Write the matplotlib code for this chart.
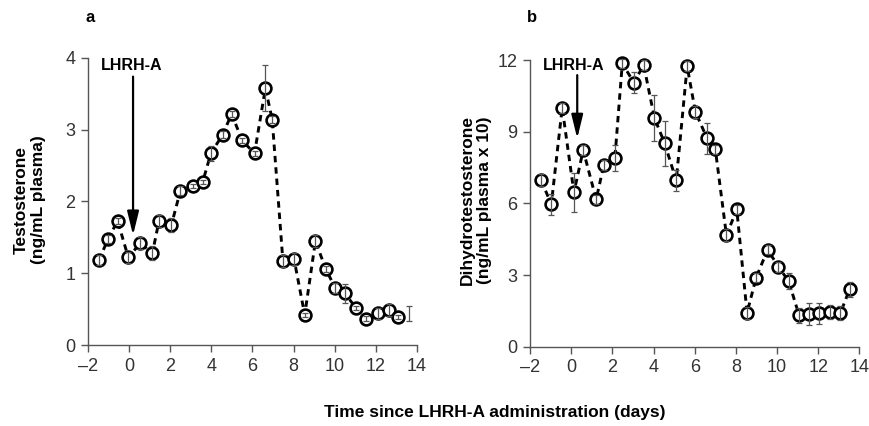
"""Testosterone / DHT time course after LHRH-A administration (two panels)."""

import matplotlib
matplotlib.use("Agg")
import matplotlib.pyplot as plt
import numpy as np

plt.rcParams["font.family"] = ["Liberation Sans", "DejaVu Sans"]

# ── panel a: testosterone (ng/mL plasma) ───────────────────────────────
t_days = [-1.46, -1.01, -0.55, -0.03, 0.55, 1.14, 1.46, 2.06, 2.50, 3.09,
          3.58, 3.98, 4.55, 4.99, 5.50, 6.10, 6.63, 6.96, 7.48, 8.02,
          8.54, 9.06, 9.56, 10.03, 10.49, 11.02, 11.50, 12.08, 12.63, 13.06]
t_vals = [1.18, 1.48, 1.73, 1.22, 1.42, 1.28, 1.73, 1.67, 2.15, 2.22,
          2.27, 2.67, 2.93, 3.22, 2.85, 2.67, 3.58, 3.14, 1.17, 1.20,
          0.42, 1.45, 1.06, 0.79, 0.72, 0.52, 0.37, 0.44, 0.49, 0.39]
t_err = [0.07, 0.06, 0.04, 0.08, 0.08, 0.10, 0.08, 0.10, 0.06, 0.03,
         0.03, 0.10, 0.05, 0.04, 0.04, 0.03, 0.32, 0.05, 0.08, 0.08,
         0.03, 0.08, 0.04, 0.07, 0.13, 0.03, 0.03, 0.08, 0.08, 0.03]
# last sample: only its error bar is visible
t_last_day, t_last_val, t_last_err = 13.60, 0.44, 0.10

# ── panel b: dihydrotestosterone (ng/mL plasma x 10) ──────────────────
d_days = [-1.46, -0.97, -0.44, 0.13, 0.58, 1.21, 1.58, 2.12, 2.48, 3.04,
          3.52, 4.04, 4.54, 5.10, 5.63, 6.03, 6.60, 7.00, 7.54, 8.04,
          8.54, 8.98, 9.54, 10.06, 10.56, 11.07, 11.57, 12.05, 12.55, 13.07,
          13.52]
d_vals = [6.97, 5.96, 10.0, 6.46, 8.23, 6.17, 7.60, 7.91, 11.86, 11.06,
          11.79, 9.58, 8.51, 6.96, 11.74, 9.83, 8.72, 8.26, 4.66, 5.75,
          1.42, 2.89, 4.07, 3.35, 2.75, 1.31, 1.37, 1.40, 1.46, 1.40,
          2.40]
d_err = [0.25, 0.45, 0.20, 0.80, 0.20, 0.20, 0.20, 0.55, 0.20, 0.45,
         0.20, 0.95, 0.93, 0.45, 0.20, 0.25, 0.65, 0.20, 0.25, 0.20,
         0.25, 0.20, 0.20, 0.20, 0.35, 0.30, 0.45, 0.45, 0.30, 0.30,
         0.30]

X_TICKS = [-2, 0, 2, 4, 6, 8, 10, 12, 14]
A_YTICKS = [0, 1, 2, 3, 4]
B_YTICKS = [0, 3, 6, 9, 12]

SPINE = "#555555"
ERR = "#555555"
ARROW = dict(arrowstyle="-|>,head_width=0.22,head_length=0.9", color="black",
             lw=1.6, mutation_scale=16, shrinkA=0, shrinkB=0)


def style_axes(ax, yticks):
    ax.set_xlim(-2, 14)
    ax.set_ylim(yticks[0], yticks[-1])
    ax.set_xticks(X_TICKS)
    ax.set_xticklabels([f"{v}".replace("-", "\u2013") for v in X_TICKS])
    ax.set_yticks(yticks)
    for s in ("top", "right"):
        ax.spines[s].set_visible(False)
    for s in ("left", "bottom"):
        ax.spines[s].set_color(SPINE)
        ax.spines[s].set_linewidth(1.0)
    ax.tick_params(direction="out", length=5, width=1.0, color=SPINE,
                   labelsize=13, labelcolor="#333333", pad=4)
    ax.patch.set_alpha(0)


def draw_series(ax, x, y, err):
    ax.plot(x, y, color="black", lw=2.1, dashes=(2.2, 1.7), zorder=1,
            clip_on=False)
    ax.plot(x, y, "o", ms=8.5, mfc="white", mec="black", mew=1.9, zorder=2,
            clip_on=False)
    ax.errorbar(x, y, yerr=err, fmt="none", ecolor=ERR, elinewidth=0.9,
                capsize=2.5, capthick=0.9, zorder=3, clip_on=False)


def main():
    fig = plt.figure(figsize=(8.69, 4.26), dpi=100)
    ax_a = fig.add_axes([0.101, 0.190, 0.379, 0.674])
    ax_b = fig.add_axes([0.610, 0.186, 0.379, 0.673])

    # (a) testosterone
    draw_series(ax_a, t_days, t_vals, t_err)
    ax_a.errorbar([t_last_day], [t_last_val], yerr=[t_last_err], fmt="none",
                  ecolor=ERR, elinewidth=0.9, capsize=2.5, capthick=0.9,
                  zorder=3)
    style_axes(ax_a, A_YTICKS)
    ax_a.annotate("", xy=(0.2, 1.53), xytext=(0.2, 3.74), arrowprops=ARROW)
    ax_a.text(0.15, 3.9, "LHRH-A", ha="center", va="center",
              fontsize=11.5, fontweight="bold")

    # (b) dihydrotestosterone
    draw_series(ax_b, d_days, d_vals, d_err)
    style_axes(ax_b, B_YTICKS)
    ax_b.annotate("", xy=(0.29, 8.72), xytext=(0.29, 11.37), arrowprops=ARROW)
    ax_b.text(0.13, 11.79, "LHRH-A", ha="center", va="center",
              fontsize=11.5, fontweight="bold")

    # panel letters, axis labels
    fig.text(85 / 869, 1 - 18 / 426, "a", fontsize=12, fontweight="bold",
             ha="left", va="center")
    fig.text(527 / 869, 1 - 18 / 426, "b", fontsize=12, fontweight="bold",
             ha="left", va="center")
    fig.text(30 / 869, 1 - 200 / 426, "Testosterone\n(ng/mL plasma)",
             rotation=90, ha="center", va="center", fontsize=12.5,
             fontweight="bold", linespacing=1.25)
    fig.text(476 / 869, 1 - 200 / 426,
             "Dihydrotestosterone\n(ng/mL plasma x 10)",
             rotation=90, ha="center", va="center", fontsize=12.5,
             fontweight="bold", linespacing=1.25)
    fig.text(495 / 869, 1 - 412 / 426,
             "Time since LHRH-A administration (days)",
             ha="center", va="center", fontsize=12.5, fontweight="bold")

    fig.savefig("out.png", dpi=100)
    plt.close(fig)


if __name__ == "__main__":
    main()
